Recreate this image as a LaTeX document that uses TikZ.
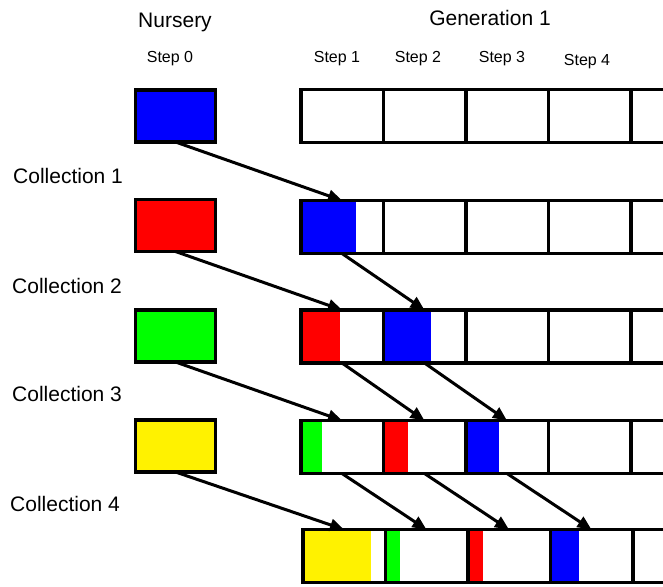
\documentclass[tikz,border=0pt]{standalone}
\usepackage{fontspec}
\setmainfont{Liberation Sans}
\usetikzlibrary{arrows.meta}

\begin{document}
\begin{tikzpicture}[x=1pt,y=-1pt,
  box/.style={draw, line width=3.5pt, inner sep=0pt, outer sep=0pt, minimum width=80pt, minimum height=52pt},
  cell/.style={draw, line width=3.5pt, inner sep=0pt, outer sep=0pt, minimum width=82.5pt, minimum height=53pt},
  part/.style 2 args={path picture={\fill[#1] (path picture bounding box.north west) rectangle ([xshift=#2pt]path picture bounding box.south west);}},
  move/.style={-{Triangle[length=14pt,width=12pt]}, line width=3pt},
  head/.style={font=\fontsize{21}{25}\selectfont, inner sep=0pt, anchor=base},
  steplabel/.style={font=\fontsize{16}{19}\selectfont, inner sep=0pt, anchor=base}]

\useasboundingbox (0,0) rectangle (663,586);
\clip (0,0) rectangle (663,586);

% Headings
\node[head] (nursery) at (175,28) {Nursery};
\node[head] (gen) at (490,26) {Generation 1};
\foreach \x/\y/\s in {170/63/0, 337/63/1, 418/63/2, 502/63/3, 587/65/4}
    \node[steplabel] (step\s) at (\x,\y) {Step \s};

% Collections
\foreach \x/\y/\i in {13/183/1, 12/293/2, 12/401/3, 10/511/4}
    \node[head, anchor=base west] (coll\i) at (\x,\y) {Collection \i};

% Nursery boxes
\foreach \i/\y/\col in {1/116/blue, 2/225.5/red, 3/336/green, 4/446/yellow}
    \node[box, fill=\col] (n\i) at (175.5,\y) {};

% Generation 1, one row of cells after each collection
\foreach \c in {1,...,5}
    \node[cell] (g1\c) at ({342+82.5*(\c-1)},116) {};
\foreach \c/\col/\w in {1/blue/55.5, 2/white/0, 3/white/0, 4/white/0, 5/white/0}
    \node[cell, part={\col}{\w}] (g2\c) at ({342+82.5*(\c-1)},227) {};
\foreach \c/\col/\w in {1/red/39.5, 2/blue/48, 3/white/0, 4/white/0, 5/white/0}
    \node[cell, part={\col}{\w}] (g3\c) at ({342+82.5*(\c-1)},336.5) {};
\foreach \c/\col/\w in {1/green/21.5, 2/red/25, 3/blue/33, 4/white/0, 5/white/0}
    \node[cell, part={\col}{\w}] (g4\c) at ({342+82.5*(\c-1)},447) {};
\foreach \c/\col/\w in {1/yellow/68.5, 2/green/15, 3/red/15, 4/blue/29, 5/white/0}
    \node[cell, part={\col}{\w}] (g5\c) at ({344+82.5*(\c-1)},556) {};

% Moves from the nursery into Generation 1
\foreach \i/\b in {1/21, 2/31, 3/41, 4/51}
    \draw[move] (n\i.south) -- (g\b.north);

% Moves one step further within Generation 1
\foreach \a/\b in {21/32, 31/42, 32/43, 41/52, 42/53, 43/54}
    \draw[move] (g\a.south) -- (g\b.north);

\end{tikzpicture}
\end{document}
